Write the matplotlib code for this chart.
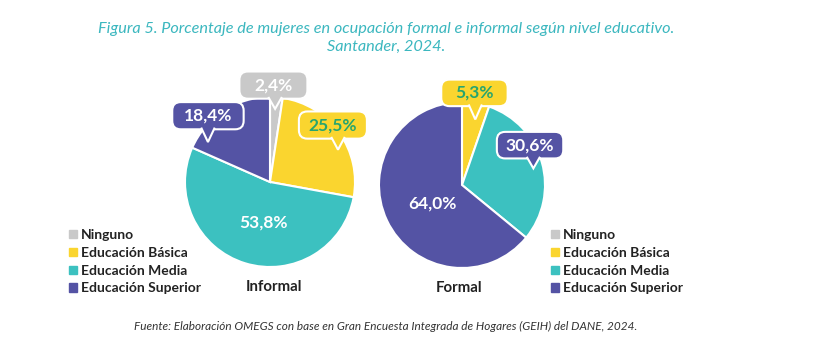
import matplotlib.pyplot as plt
from matplotlib.patches import FancyBboxPatch, Polygon, Patch

plt.rcParams['font.family'] = ['Lato', 'DejaVu Sans']

# data
categorias = ["Ninguno", "Educación Básica", "Educación Media", "Educación Superior"]
informal = [2.4, 25.5, 53.8, 18.4]
formal = [0.0, 5.3, 30.6, 64.0]
colores = ["#c9c9c9", "#fad52f", "#3cc1c0", "#5453a4"]

TEAL = "#3bb7bf"
GREEN = "#27a56f"
DARK = "#222222"


def fmt(v):
    return f"{v:.1f}%".replace(".", ",")


def bubble(ax, x, y, tx, ty, text, fc, tc, w=0.8, h=0.32):
    # rounded box with a small pointer underneath
    box = FancyBboxPatch((x - w / 2, y - h / 2), w, h,
                         boxstyle="round,pad=0,rounding_size=0.1",
                         fc=fc, ec="white", lw=1.5, zorder=5, clip_on=False)
    ax.add_patch(box)
    b = 0.08
    tri = Polygon([(tx - b, y - h / 2 + 0.02), (tx, ty), (tx + b, y - h / 2 + 0.02)],
                  closed=False, fc=fc, ec="white", lw=1.5, zorder=6, clip_on=False)
    ax.add_patch(tri)
    ax.text(x, y, text, ha="center", va="center", color=tc, fontsize=12.5,
            fontweight="bold", zorder=7)


fig = plt.figure(figsize=(8.14, 3.51), dpi=100)
W, H = 814, 351


def pie_axes(cx, cy, r):
    return fig.add_axes([(cx - r) / W, (H - cy - r) / H, 2 * r / W, 2 * r / H])


def draw_pie(ax, vals):
    ax.pie(vals, colors=colores, startangle=90, counterclock=False, radius=1,
           wedgeprops=dict(edgecolor="white", linewidth=1.5))
    ax.set_xlim(-1, 1)
    ax.set_ylim(-1, 1)
    ax.set_aspect("equal")
    ax.axis("off")


# Informal
ax1 = pie_axes(270, 182, 85)
draw_pie(ax1, informal)
bubble(ax1, 0.04, 1.14, 0.06, 0.86, fmt(informal[0]), colores[0], "white")
bubble(ax1, 0.74, 0.67, 0.80, 0.38, fmt(informal[1]), colores[1], GREEN)
ax1.text(-0.08, -0.48, fmt(informal[2]), ha="center", va="center",
         color="white", fontsize=12.5, fontweight="bold")
bubble(ax1, -0.73, 0.78, -0.73, 0.47, fmt(informal[3]), colores[3], "white", w=0.84)

# Formal
ax2 = pie_axes(462, 185, 83)
draw_pie(ax2, formal)
bubble(ax2, 0.15, 1.11, 0.16, 0.79, fmt(formal[1]), colores[1], GREEN)
bubble(ax2, 0.82, 0.48, 0.86, 0.20, fmt(formal[2]), colores[3], "white")
ax2.text(-0.36, -0.22, fmt(formal[3]), ha="center", va="center",
         color="white", fontsize=12.5, fontweight="bold")

fig.text(274 / W, 1 - 287 / H, "Informal", ha="center", va="center",
         fontsize=10.8, fontweight="bold", color=DARK)
fig.text(459 / W, 1 - 288 / H, "Formal", ha="center", va="center",
         fontsize=10.8, fontweight="bold", color=DARK)

handles = [Patch(color=c, label=l) for c, l in zip(colores, categorias)]
for x0 in (69, 551):
    leg = fig.legend(handles=handles, loc="upper left",
                     bbox_to_anchor=(x0 / W, 1 - 229 / H), frameon=False,
                     handlelength=0.55, handleheight=0.55, handletextpad=0.3,
                     labelspacing=0.42, borderpad=0, borderaxespad=0,
                     prop=dict(size=10, weight="bold"))
    for t in leg.get_texts():
        t.set_color(DARK)

fig.text(386 / W, 1 - 29 / H,
         "Figura 5. Porcentaje de mujeres en ocupación formal e informal según nivel educativo.",
         ha="center", va="center", fontsize=11.7, style="italic", color=TEAL)
fig.text(386 / W, 1 - 47 / H, "Santander, 2024.", ha="center", va="center",
         fontsize=11.7, style="italic", color=TEAL)
fig.text(386 / W, 1 - 326 / H,
         "Fuente: Elaboración OMEGS con base en Gran Encuesta Integrada de Hogares (GEIH) del DANE, 2024.",
         ha="center", va="center", fontsize=8.5, style="italic", color="#333333")

fig.savefig("out.png", dpi=100)
